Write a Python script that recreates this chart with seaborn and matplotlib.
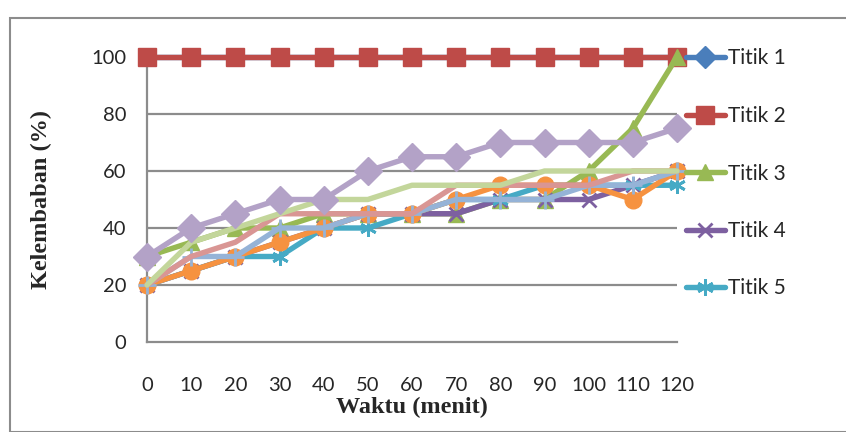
import matplotlib
matplotlib.use("Agg")
import matplotlib.pyplot as plt
import seaborn as sns
import pandas as pd
from matplotlib.lines import Line2D
from matplotlib.patches import Rectangle
from matplotlib.legend_handler import HandlerLine2D

waktu = [0, 10, 20, 30, 40, 50, 60, 70, 80, 90, 100, 110, 120]
titik1 = [100, 100, 100, 100, 100, 100, 100, 100, 100, 100, 100, 100, 100]
titik2 = [100, 100, 100, 100, 100, 100, 100, 100, 100, 100, 100, 100, 100]
titik3 = [30, 35, 40, 40, 45, 45, 45, 45, 50, 50, 60, 75, 100]
titik4 = [20, 25, 30, 35, 40, 45, 45, 45, 50, 50, 50, 55, 60]
titik5 = [20, 25, 30, 30, 40, 40, 45, 50, 50, 55, 55, 55, 55]
titik6 = [20, 25, 30, 35, 40, 45, 45, 50, 55, 55, 55, 50, 60]
titik7 = [20, 30, 30, 40, 40, 45, 45, 50, 50, 50, 55, 55, 60]
titik8 = [20, 30, 35, 45, 45, 45, 45, 55, 55, 55, 55, 60, 60]
titik9 = [20, 35, 40, 45, 50, 50, 55, 55, 55, 60, 60, 60, 60]
titik10 = [30, 40, 45, 50, 50, 60, 65, 65, 70, 70, 70, 70, 75]
labels = ["Titik 1", "Titik 2", "Titik 3", "Titik 4", "Titik 5",
          "Titik 6", "Titik 7", "Titik 8", "Titik 9", "Titik 10"]
yticks = [0, 20, 40, 60, 80, 100]

series = [titik1, titik2, titik3, titik4, titik5, titik6, titik7, titik8, titik9, titik10]
colors = ["#4A7EBB", "#BE4B48", "#98B954", "#7D60A0", "#46AAC5",
          "#F69240", "#95B3D7", "#D99694", "#C3D69B", "#B3A2C7"]
markers = ["D", "s", "^", "x", (6, 2, 0), "o", "+", None, None, "D"]
msizes = [9, 13, 12, 10, 12, 12, 13, 0, 0, 14]


class LeftMarker(HandlerLine2D):
    def get_xdata(self, legend, xdescent, ydescent, width, height, fontsize):
        xdata = [-xdescent, -xdescent + width]
        return xdata, [-xdescent + width * 0.3]


sns.set_style("white")
fig = plt.figure(figsize=(8.46, 4.32), dpi=100)
ax = fig.add_axes([147/846, 90/432, 530/846, 285/432])

# outer chart frame
fig.patches.append(Rectangle((10/846, 0), 840/846, 414/432, transform=fig.transFigure,
                             fill=False, edgecolor="#8C8C8C", linewidth=1.5))

grid = "#8C8C8C"
for v in yticks[1:]:
    ax.axhline(v, color=grid, lw=1.6, zorder=0)

handles = []
for i, (vals, lab) in enumerate(zip(series, labels)):
    df = pd.DataFrame({"Waktu": waktu, "Kelembaban": vals})
    mk = markers[i]
    kw = dict(marker=mk, markersize=msizes[i], markeredgecolor=colors[i],
              markerfacecolor=colors[i]) if mk is not None else {}
    mew = 2.0 if (mk in ("x", "+") or isinstance(mk, tuple)) else 1
    if mk is not None:
        kw["markeredgewidth"] = mew
    sns.lineplot(data=df, x="Waktu", y="Kelembaban", ax=ax, color=colors[i],
                 lw=3.9, zorder=3 + i, clip_on=False, legend=False, **kw)
    if i < 5:
        handles.append(Line2D([], [], color=colors[i], lw=3.9, marker=mk,
                              markersize=msizes[i] if i != 0 else 11,
                              markeredgecolor=colors[i],
                              markerfacecolor=colors[i], markeredgewidth=mew))

ax.set_xlim(0, 120)
ax.set_ylim(0, 100)
ax.set_xticks(waktu)
ax.set_xticklabels([str(w) for w in waktu])
ax.set_yticks(yticks)
ax.set_yticklabels([str(v) for v in yticks])

for s in ["top", "right"]:
    ax.spines[s].set_visible(False)
for s in ["left", "bottom"]:
    ax.spines[s].set_color(grid)
    ax.spines[s].set_linewidth(1.6)
    ax.spines[s].set_zorder(1)

ax.tick_params(axis="x", direction="out", length=7, width=1.4, color=grid, pad=18,
               labelsize=14.5)
ax.tick_params(axis="y", direction="out", length=7, width=1.4, color=grid, pad=8,
               labelsize=14.5)
for t in ax.get_xticklabels() + ax.get_yticklabels():
    t.set_fontfamily("Lato")

ax.set_xlabel("Waktu (menit)", fontfamily="Liberation Serif", fontweight="bold",
              fontsize=17.5, labelpad=2)
ax.set_ylabel("Kelembaban (%)", fontfamily="Liberation Serif", fontweight="bold",
              fontsize=17.5, labelpad=28)

leg = fig.legend(handles=handles, labels=labels[:5], loc="upper left",
                 bbox_to_anchor=(686/846, 1 - 48.5/432), frameon=False,
                 prop={"family": "Lato", "size": 15}, labelspacing=1.8,
                 handlelength=1.87, handletextpad=0.15, borderpad=0,
                 borderaxespad=0, numpoints=1,
                 handler_map={Line2D: LeftMarker()})

fig.savefig("out.png", dpi=100, facecolor="white")
